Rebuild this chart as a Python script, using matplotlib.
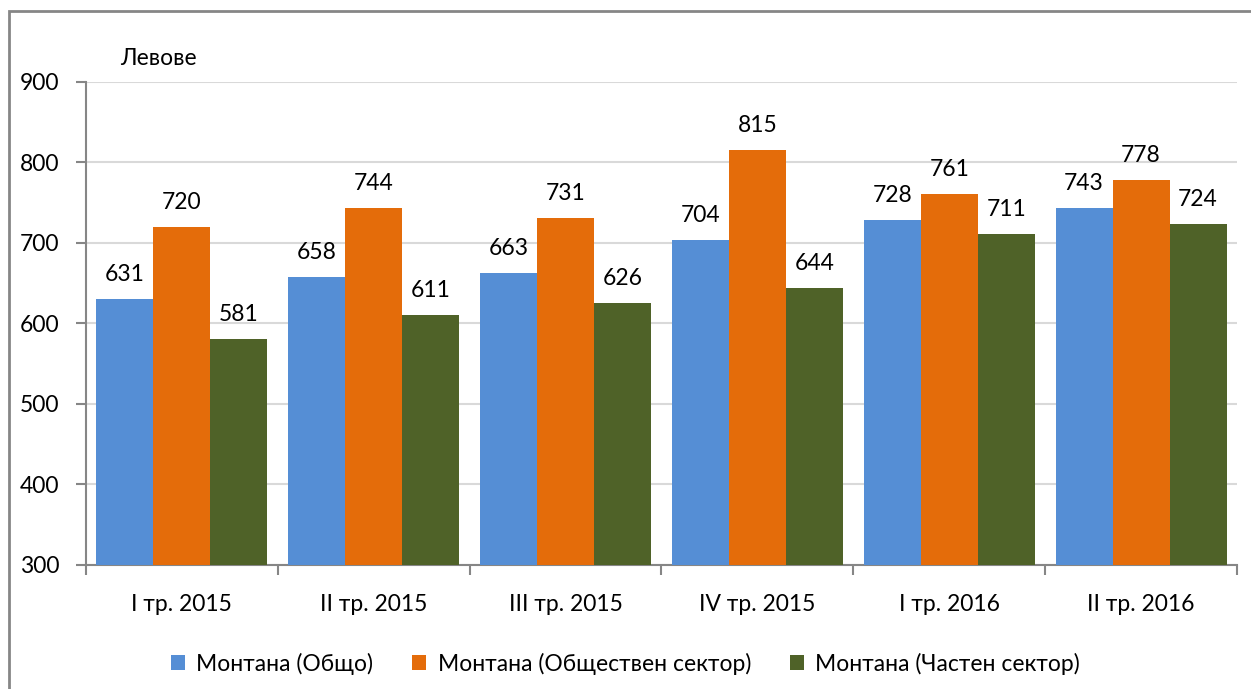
import matplotlib
matplotlib.use("Agg")
import matplotlib.pyplot as plt
import numpy as np
from matplotlib.patches import Rectangle

categories = ["I тр. 2015", "II тр. 2015", "III тр. 2015", "IV тр. 2015", "I тр. 2016", "II тр. 2016"]
series_names = ["Монтана (Общо)", "Монтана (Обществен сектор)", "Монтана (Частен сектор)"]
total = [631, 658, 663, 704, 728, 743]
public = [720, 744, 731, 815, 761, 778]
private = [581, 611, 626, 644, 711, 724]
colors = ["#558ED5", "#E46C0A", "#4F6228"]

plt.rcParams['font.family'] = ['Lato', 'DejaVu Sans']
FS = 16.5

fig = plt.figure(figsize=(12.51, 6.89), dpi=100)
ax = fig.add_axes([0.0687, 0.180, 0.9201, 0.701])

x = np.arange(len(categories))
w = 0.297
for i, (vals, c, name) in enumerate(zip([total, public, private], colors, series_names)):
    pos = x + (i - 1) * w
    ax.bar(pos, vals, width=w, color=c, label=name, zorder=3)
    for p, v in zip(pos, vals):
        ax.annotate(str(v), (p, v), xytext=(0, 18), textcoords='offset pixels',
                    ha='center', va='baseline', fontsize=FS, color='black')

ax.set_ylim(300, 900)
ax.set_xlim(-0.5, len(categories) - 0.5)
ax.set_yticks(range(300, 901, 100))
ax.set_xticks(x)
ax.set_xticklabels(categories)
ax.set_xticks(np.arange(-0.5, len(categories)), minor=True)
ax.tick_params(axis='x', which='major', length=0, pad=21, labelsize=FS)
ax.tick_params(axis='x', which='minor', length=7, color='#868686', width=1.5, direction='out')
ax.tick_params(axis='y', length=7, color='#868686', width=1.5, labelsize=FS, pad=12)
ax.grid(axis='y', color='#D9D9D9', linewidth=1.5, zorder=0)
for s in ['top', 'right']:
    ax.spines[s].set_visible(False)
for s in ['left', 'bottom']:
    ax.spines[s].set_color('#868686')
    ax.spines[s].set_linewidth(1.5)

fig.text(0.096, 0.915, "Левове", fontsize=16.5, ha='left', va='center')

fig.legend(loc='center', bbox_to_anchor=(0.5, 0.037), ncol=3, frameon=False,
           fontsize=FS, handlelength=0.6, handleheight=0.6, columnspacing=1.7, handletextpad=0.5)

border = Rectangle((0.0072, -0.1), 1.2, 1.084, transform=fig.transFigure,
                   fill=False, edgecolor='#868686', linewidth=2)
fig.patches.append(border)

fig.savefig("out.png", dpi=100)
